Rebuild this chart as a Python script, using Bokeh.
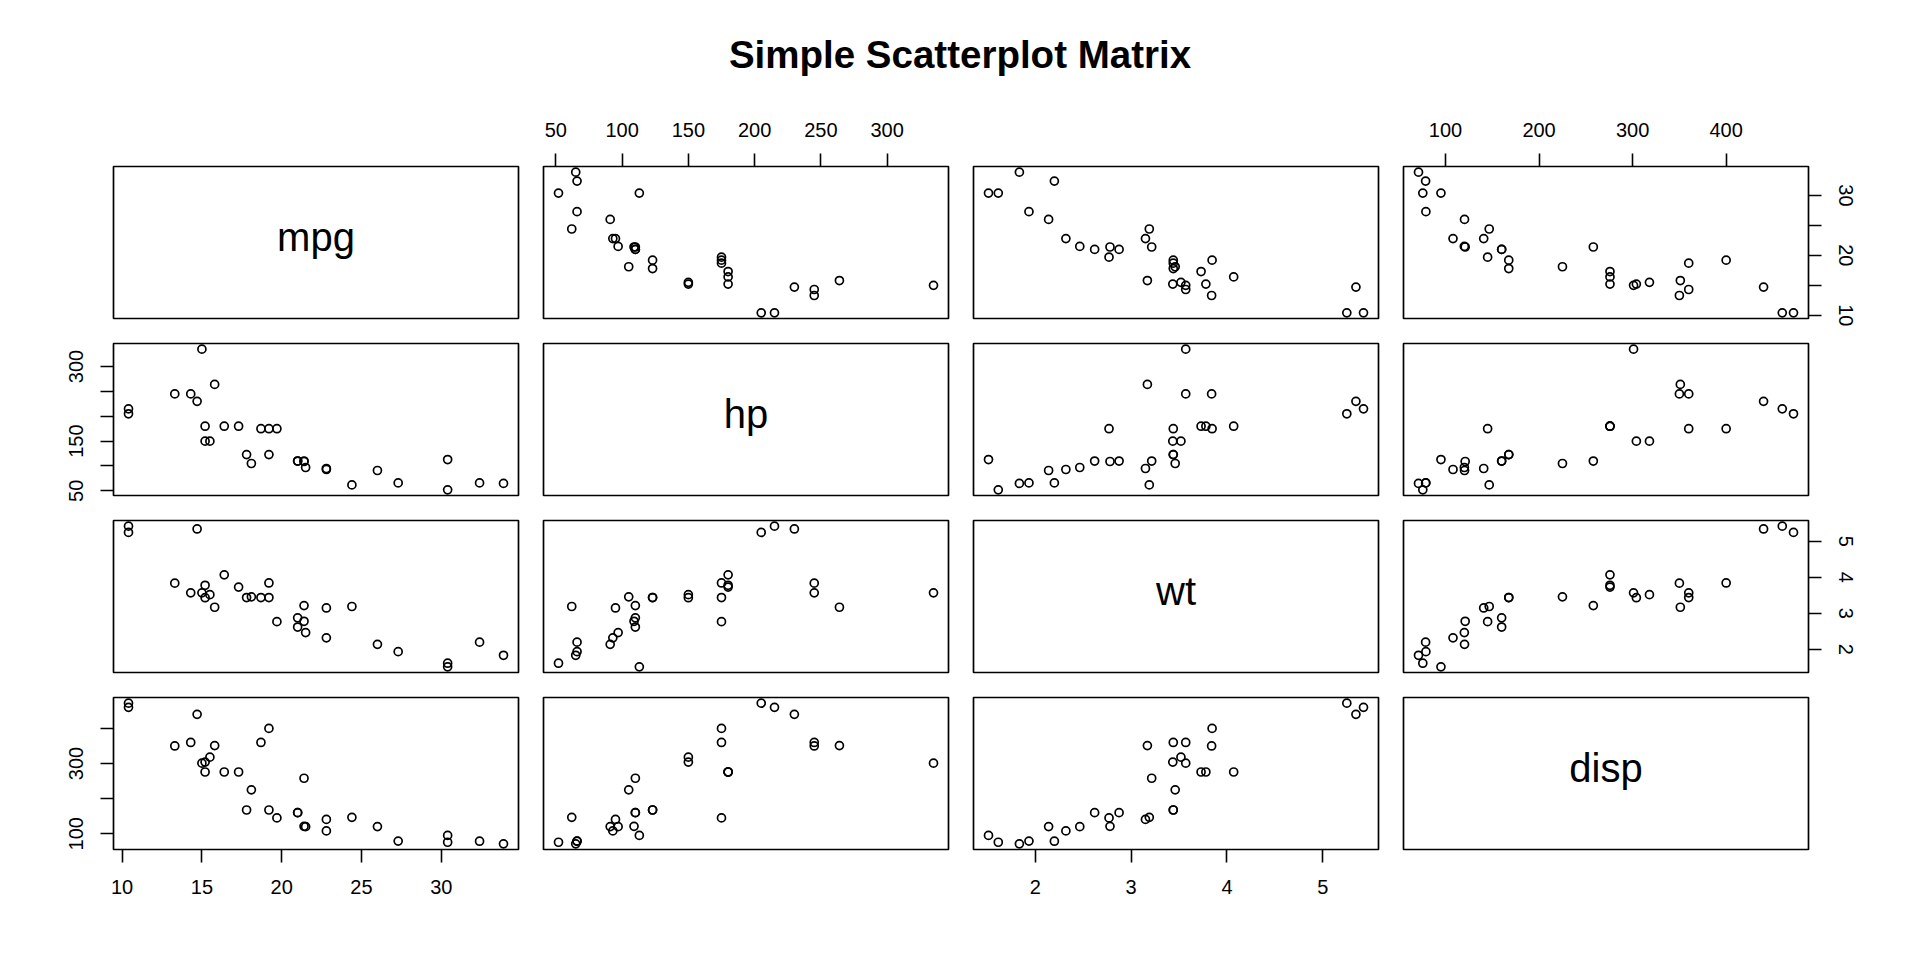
from bokeh.plotting import figure
from bokeh.layouts import column, row
from bokeh.models import Range1d, FixedTicker, Div
from bokeh.embed import file_html
from bokeh.resources import INLINE
from bokeh.core.properties import value

# mtcars subset
mpg = [21.0, 21.0, 22.8, 21.4, 18.7, 18.1, 14.3, 24.4, 22.8, 19.2, 17.8, 16.4, 17.3, 15.2, 10.4, 10.4,
       14.7, 32.4, 30.4, 33.9, 21.5, 15.5, 15.2, 13.3, 19.2, 27.3, 26.0, 30.4, 15.8, 19.7, 15.0, 21.4]
hp = [110, 110, 93, 110, 175, 105, 245, 62, 95, 123, 123, 180, 180, 180, 205, 215,
      230, 66, 52, 65, 97, 150, 150, 245, 175, 66, 91, 113, 264, 175, 335, 109]
wt = [2.620, 2.875, 2.320, 3.215, 3.440, 3.460, 3.570, 3.190, 3.150, 3.440, 3.440, 4.070, 3.730, 3.780, 5.250, 5.424,
      5.345, 2.200, 1.615, 1.835, 2.465, 3.520, 3.435, 3.840, 3.845, 1.935, 2.140, 1.513, 3.170, 2.770, 3.570, 2.780]
disp = [160.0, 160.0, 108.0, 258.0, 360.0, 225.0, 360.0, 146.7, 140.8, 167.6, 167.6, 275.8, 275.8, 275.8, 472.0, 460.0,
        440.0, 78.7, 75.7, 71.1, 120.1, 318.0, 304.0, 350.0, 400.0, 79.0, 120.3, 95.1, 351.0, 145.0, 301.0, 121.0]

names = ["mpg", "hp", "wt", "disp"]
title_text = "Simple Scatterplot Matrix"

mpg_ticks = [10, 15, 20, 25, 30]
hp_ticks = [50, 100, 150, 200, 250, 300]
wt_ticks = [2, 3, 4, 5]
disp_ticks = [100, 200, 300, 400]

# labels that stay visible on the vertical axes (crowded ones are dropped)
mpg_ylabels = [10, 20, 30]
hp_ylabels = [50, 150, 300]
wt_ylabels = [2, 3, 4, 5]
disp_ylabels = [100, 300]

data = {"mpg": mpg, "hp": hp, "wt": wt, "disp": disp}
ticks = {"mpg": mpg_ticks, "hp": hp_ticks, "wt": wt_ticks, "disp": disp_ticks}
ylabels = {"mpg": mpg_ylabels, "hp": hp_ylabels, "wt": wt_ylabels, "disp": disp_ylabels}

FONT = "Liberation Sans"
FW, FH = 405, 152
col_borders = [(113, 12), (13, 12), (13, 12), (13, 100)]
row_borders = [(70, 12), (13, 12), (13, 12), (13, 80)]
n = len(names)


def ext_range(v):
    lo, hi = min(v), max(v)
    d = (hi - lo) * 0.04
    return Range1d(lo - d, hi + d)


def style_axis(ax, name, vertical):
    ax.ticker = FixedTicker(ticks=ticks[name])
    ax.minor_tick_line_color = None
    ax.major_tick_in = 0
    ax.major_tick_out = 13
    ax.major_tick_line_width = 1.6
    ax.major_tick_line_color = "black"
    ax.axis_line_color = None
    ax.major_label_standoff = 17
    ax.major_label_text_font = FONT
    ax.major_label_text_font_size = "20px"
    ax.major_label_text_color = "black"
    if vertical:
        ax.major_label_orientation = "vertical"
        ax.major_label_overrides = {t: "" for t in ticks[name] if t not in ylabels[name]}


rows = []
for i in range(n):
    figs = []
    T, B = row_borders[i]
    for j in range(n):
        L, R = col_borders[j]
        top = (i == 0 and j % 2 == 1)
        bottom = (i == n - 1 and j % 2 == 0)
        left = (j == 0 and i % 2 == 1)
        right = (j == n - 1 and i % 2 == 0)
        if i == j:
            xr, yr = Range1d(0, 1), Range1d(0, 1)
        else:
            xr, yr = ext_range(data[names[j]]), ext_range(data[names[i]])
        xloc = "above" if top else ("below" if bottom else None)
        yloc = "left" if left else ("right" if right else None)
        p = figure(width=L + FW + R, height=T + FH + B, x_range=xr, y_range=yr,
                   output_backend="svg", toolbar_location=None,
                   min_border_left=L, min_border_right=R, min_border_top=T, min_border_bottom=B,
                   x_axis_location=xloc, y_axis_location=yloc)
        p.grid.visible = False
        p.outline_line_color = "black"
        p.outline_line_width = 1.7
        p.background_fill_color = "white"
        p.border_fill_color = "white"
        if xloc is not None:
            for ax in p.xaxis:
                style_axis(ax, names[j], False)
        if yloc is not None:
            for ax in p.yaxis:
                style_axis(ax, names[i], True)
        if i == j:
            p.text(x=[0.5], y=[0.5 + 6.0 / FH], text=[names[i]],
                   text_align="center", text_baseline="middle",
                   text_font=value(FONT), text_font_size="40px", text_color="black")
        else:
            p.scatter(x=data[names[j]], y=data[names[i]], marker="circle", size=8,
                      fill_color=None, line_color="black", line_width=1.7)
        figs.append(p)
    rows.append(row(*figs, spacing=0))

title = Div(text='<div style="margin-top:31px;margin-left:7px;width:1896px;text-align:center;'
                 'font-family:\'Liberation Sans\';font-weight:bold;font-size:38.5px;line-height:38px;color:black;">'
                 + title_text + '</div>',
            width=1908, height=86)

layout = column(title, *rows, spacing=0)

open("out.html", "w").write(file_html(layout, INLINE))
